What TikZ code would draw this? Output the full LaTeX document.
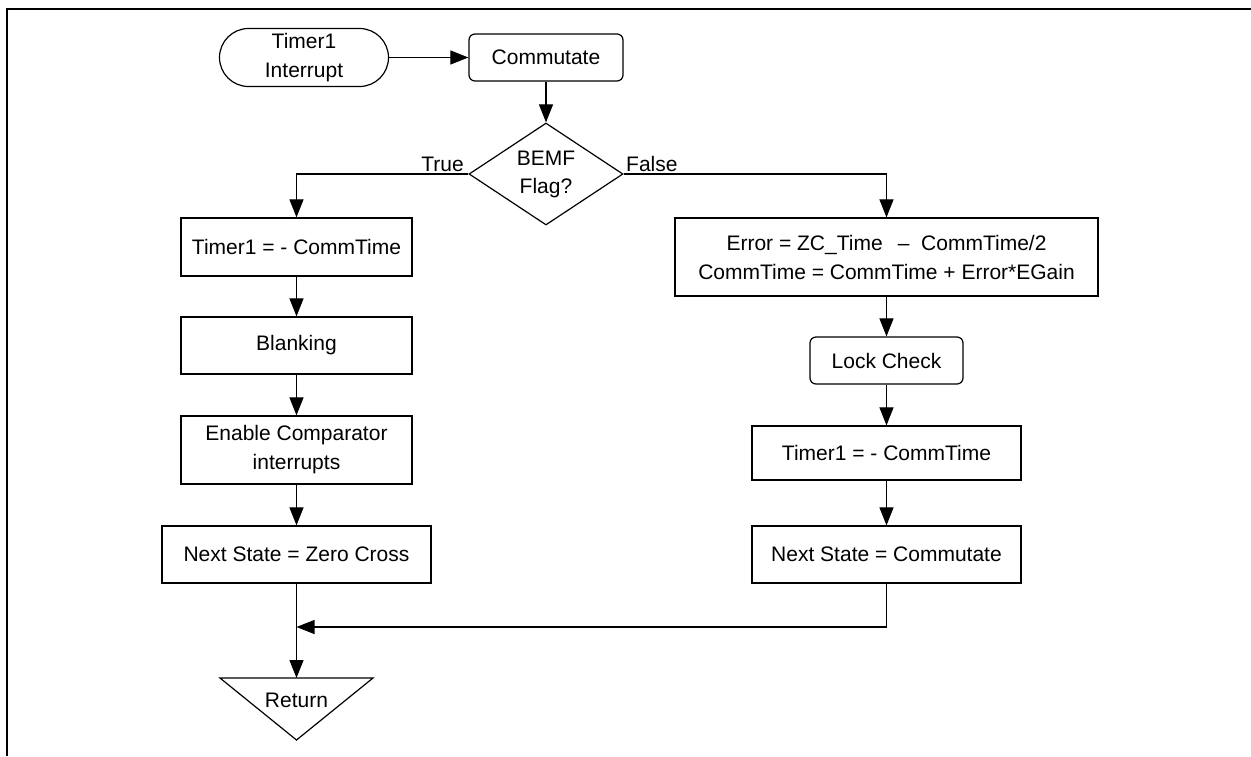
\documentclass[tikz,border=0pt]{standalone}
\usepackage{fontspec}
\setmainfont{Liberation Sans}
\usetikzlibrary{arrows.meta,shapes.geometric}
\begin{document}
\begin{tikzpicture}[x=1pt,y=-1pt,
  every node/.style={font=\fontsize{21}{29}\selectfont, align=center, inner sep=0pt},
  procbox/.style={draw, line width=1.2pt, rectangle},
  softbox/.style={draw, line width=1.2pt, rectangle, rounded corners=6pt},
  termbox/.style={draw, line width=1.2pt, rectangle, rounded corners=29pt},
  decbox/.style={draw, line width=1.2pt, diamond, aspect=1.5},
  link/.style={line width=1.1pt, -{Triangle[length=18pt,width=14pt]}},
  plain/.style={line width=1.1pt}]
\useasboundingbox (0,0) rectangle (1251,756);
% frame
\draw[line width=2.6pt] (7,756) -- (7,9) -- (1251,9);

% top row
\node[termbox, minimum width=169pt, minimum height=58pt] (start) at (304,57.5) {Timer1\\Interrupt};
\node[softbox, minimum width=154pt, minimum height=47pt] (comm) at (546,57.5) {Commutate};
\node[decbox, minimum width=154pt, minimum height=102pt] (flag) at (546,174) {BEMF\\[-1pt]Flag?};

% left branch
\node[procbox, minimum width=231pt, minimum height=58pt] (ltimer) at (296.5,247) {Timer1 = - CommTime};
\node[procbox, minimum width=231pt, minimum height=57pt] (blank) at (296.5,345.5) {Blanking};
\node[procbox, minimum width=231pt, minimum height=68pt] (enable) at (296.5,450) {Enable Comparator\\interrupts};
\node[procbox, minimum width=269pt, minimum height=57pt] (zero) at (296.5,554.5) {Next State = Zero Cross};

% right branch
\node[procbox, minimum width=423pt, minimum height=78pt] (err) at (886.5,257) {Error = ZC\_Time \ \,--\ \ CommTime/2\\CommTime = CommTime + Error*EGain};
\node[softbox, minimum width=153pt, minimum height=47pt] (lock) at (886.5,360.5) {Lock Check};
\node[procbox, minimum width=269pt, minimum height=54pt] (rtimer) at (886.5,453) {Timer1 = - CommTime};
\node[procbox, minimum width=269pt, minimum height=57pt] (rnext) at (886.5,554.5) {Next State = Commutate};

% return terminator
\coordinate (rettop) at (296.5,678);
\coordinate (merge) at (296.5,627);
\draw[line width=1.2pt] (220,678) -- (373,678) -- (296.5,740) -- cycle;
\node (ret) at (296.5,700) {Return};

% branch labels
\node[anchor=base east] (tlab) at (464,171) {True};
\node[anchor=base west] (flab) at (626,171) {False};

% connectors
\draw[link] (start.east) -- (comm.west);
\draw[link] (comm.south) -- (flag.north);
\draw[link] (flag.west) -| (ltimer.north);
\draw[link] (flag.east) -| (err.north);
\draw[link] (ltimer) -- (blank);
\draw[link] (blank) -- (enable);
\draw[link] (enable) -- (zero);
\draw[link] (err) -- (lock);
\draw[link] (lock) -- (rtimer);
\draw[link] (rtimer) -- (rnext);
\draw[link] (zero.south) -- (rettop);
\draw[link] (rnext.south) |- (merge);
\end{tikzpicture}
\end{document}
